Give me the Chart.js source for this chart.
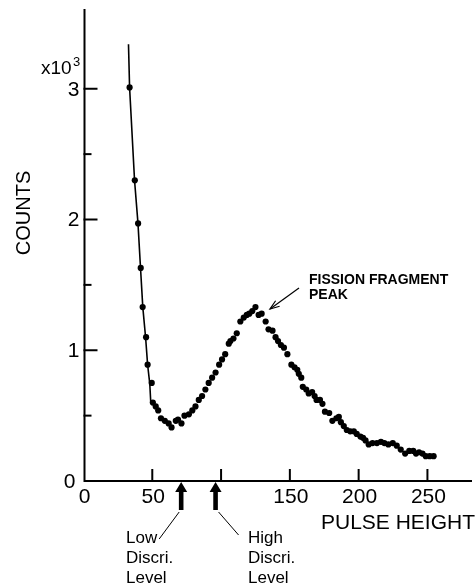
<!DOCTYPE html>
<html>
<head>
<meta charset="utf-8">
<script src="https://cdn.jsdelivr.net/npm/chart.js@4"></script>
<style>
  html, body { margin: 0; padding: 0; background: #fff; }
  canvas { display: block; }
</style>
</head>
<body>
<canvas id="pulseChart" width="476" height="585"></canvas>
<script>
// Measured points (pulse height channel, counts in units of 10^3)
const pulseHeight = [
  33.5, 37.3, 39.7, 41.6, 43.0, 45.5, 46.6, 49.6, 50.4, 52.5,
  54.3, 56.3, 59.1, 61.9, 64.0, 67.1, 68.7, 71.2, 73.4, 76.6,
  79.1, 81.4, 83.8, 86.2, 88.6, 91.0, 93.5, 96.0, 98.6, 100.7,
  103.0, 105.6, 106.8, 109.0, 111.4, 114.0, 116.5, 118.7, 120.5, 122.7,
  125.0, 127.3, 129.5, 132.4, 134.5, 137.4, 139.6, 141.4, 143.5, 145.7,
  148.2, 151.1, 153.4, 155.4, 156.5, 158.3, 159.4, 161.9, 163.7, 166.2,
  168.0, 169.4, 171.9, 173.7, 175.5, 178.6, 180.9, 183.8, 185.6, 187.1,
  189.2, 191.4, 193.9, 196.5, 198.6, 201.3, 203.2, 205.0, 207.3, 210.1,
  213.3, 216.2, 218.7, 221.6, 224.8, 227.7, 230.6, 233.8, 236.8, 239.7,
  241.7, 243.9, 246.4, 248.8, 251.7, 254.5
];
const counts = [
  3.01, 2.30, 1.97, 1.63, 1.33, 1.10, 0.89, 0.75, 0.60, 0.57,
  0.54, 0.48, 0.46, 0.44, 0.41, 0.46, 0.47, 0.44, 0.50, 0.51,
  0.54, 0.57, 0.62, 0.65, 0.70, 0.75, 0.79, 0.83, 0.89, 0.93,
  0.97, 1.05, 1.07, 1.09, 1.13, 1.22, 1.25, 1.27, 1.28, 1.30,
  1.33, 1.27, 1.28, 1.22, 1.16, 1.15, 1.10, 1.07, 1.04, 1.02,
  0.97, 0.89, 0.87, 0.85, 0.82, 0.79, 0.72, 0.70, 0.67, 0.68,
  0.65, 0.62, 0.62, 0.59, 0.53, 0.52, 0.46, 0.48, 0.49, 0.45,
  0.42, 0.39, 0.38, 0.38, 0.36, 0.34, 0.33, 0.31, 0.28, 0.29,
  0.29, 0.30, 0.29, 0.28, 0.29, 0.27, 0.24, 0.21, 0.23, 0.23,
  0.21, 0.22, 0.21, 0.19, 0.19, 0.19
];

// Hand-drawn curve through the low-energy tail
const fitX = [32.7, 33.5, 37.1, 39.6, 41.5, 43.1, 45.2, 46.6, 48.2, 48.9];
const fitY = [3.34, 3.01, 2.30, 1.97, 1.62, 1.33, 1.09, 0.89, 0.74, 0.60];

// Axis ticks
const xTicks = [50, 100, 150, 200, 250];
const xTickLabels = ['50', '', '150', '200', '250'];
const yTicks = [0.5, 1, 1.5, 2, 2.5, 3];
const yLabelTicks = [1, 2, 3];

// Discriminator levels
const lowDiscri = 71;
const highDiscri = 96;

const font = '"Liberation Sans", Arial, sans-serif';

const pointData = pulseHeight.map((x, i) => ({ x: x, y: counts[i] }));
const fitData = fitX.map((x, i) => ({ x: x, y: fitY[i] }));

function arrowHead(ctx, x1, y1, x2, y2, size) {
  const a = Math.atan2(y2 - y1, x2 - x1);
  ctx.beginPath();
  ctx.moveTo(x2 - size * Math.cos(a - 0.35), y2 - size * Math.sin(a - 0.35));
  ctx.lineTo(x2, y2);
  ctx.lineTo(x2 - size * Math.cos(a + 0.35), y2 - size * Math.sin(a + 0.35));
  ctx.stroke();
}

// Axes, ticks and labels drawn in the old paper style
const paperAxes = {
  id: 'paperAxes',
  afterDraw(chart) {
    const ctx = chart.ctx;
    const xs = chart.scales.x;
    const ys = chart.scales.y;
    const x0 = xs.getPixelForValue(0);
    const y0 = ys.getPixelForValue(0);
    ctx.save();
    ctx.strokeStyle = '#000';
    ctx.fillStyle = '#000';
    ctx.lineWidth = 2;
    ctx.lineCap = 'butt';

    // axis lines
    ctx.beginPath();
    ctx.moveTo(x0 + 1, chart.chartArea.top);
    ctx.lineTo(x0 + 1, y0);
    ctx.lineTo(chart.chartArea.right, y0);
    ctx.stroke();

    // x ticks (inside)
    xTicks.forEach((v, i) => {
      const px = xs.getPixelForValue(v);
      ctx.beginPath();
      ctx.moveTo(px, y0);
      ctx.lineTo(px, y0 - 12);
      ctx.stroke();
      if (xTickLabels[i]) {
        ctx.font = '21px ' + font;
        ctx.textAlign = 'center';
        ctx.textBaseline = 'middle';
        ctx.fillText(xTickLabels[i], px + 1, y0 + 16);
      }
    });

    // y ticks (inside)
    yTicks.forEach(v => {
      const py = ys.getPixelForValue(v);
      const len = Number.isInteger(v) ? 14 : 8;
      ctx.beginPath();
      ctx.moveTo(x0, py);
      ctx.lineTo(x0 + len, py);
      ctx.stroke();
    });
    ctx.font = '21px ' + font;
    ctx.textAlign = 'center';
    ctx.textBaseline = 'middle';
    yLabelTicks.forEach(v => {
      ctx.fillText(String(v), x0 - 10, ys.getPixelForValue(v) + 1);
    });
    // the two zeros
    ctx.fillText('0', x0 - 14, y0 + 1);
    ctx.fillText('0', x0 + 1, y0 + 16);

    // multiplier
    ctx.textAlign = 'left';
    ctx.font = '19px ' + font;
    ctx.fillText('x10', 41, 69);
    ctx.font = '13px ' + font;
    ctx.fillText('3', 73, 62);

    // axis titles
    ctx.font = '21px ' + font;
    ctx.textAlign = 'right';
    ctx.fillText('PULSE HEIGHT', 475, 523);
    ctx.save();
    ctx.translate(24, 213);
    ctx.rotate(-Math.PI / 2);
    ctx.textAlign = 'center';
    ctx.font = '20px ' + font;
    ctx.fillText('COUNTS', 0, 0);
    ctx.restore();

    // discriminator arrows
    [lowDiscri, highDiscri].forEach(v => {
      const px = xs.getPixelForValue(v);
      ctx.beginPath();
      ctx.moveTo(px, y0 + 1);
      ctx.lineTo(px - 6, y0 + 11);
      ctx.lineTo(px - 2.3, y0 + 11);
      ctx.lineTo(px - 2.3, y0 + 29);
      ctx.lineTo(px + 2.3, y0 + 29);
      ctx.lineTo(px + 2.3, y0 + 11);
      ctx.lineTo(px + 6, y0 + 11);
      ctx.closePath();
      ctx.fill();
    });
    ctx.lineWidth = 1;
    const lowPx = xs.getPixelForValue(lowDiscri);
    const highPx = xs.getPixelForValue(highDiscri);
    ctx.beginPath();
    ctx.moveTo(lowPx - 2, y0 + 31);
    ctx.lineTo(lowPx - 22, y0 + 58);
    ctx.moveTo(highPx + 3, y0 + 31);
    ctx.lineTo(highPx + 23, y0 + 54);
    ctx.stroke();

    ctx.font = '17px ' + font;
    ctx.textAlign = 'left';
    ctx.textBaseline = 'middle';
    ['Low', 'Discri.', 'Level'].forEach((t, i) => ctx.fillText(t, 126, 538 + i * 20));
    ['High', 'Discri.', 'Level'].forEach((t, i) => ctx.fillText(t, 248, 538 + i * 20));

    // peak label
    ctx.font = '600 14px ' + font;
    ctx.fillText('FISSION FRAGMENT', 309, 280);
    ctx.fillText('PEAK', 309, 295);
    ctx.lineWidth = 1.2;
    ctx.beginPath();
    ctx.moveTo(299, 288);
    ctx.lineTo(270, 309);
    ctx.stroke();
    arrowHead(ctx, 299, 288, 270, 309, 10);

    ctx.restore();
  }
};

const config = {
  type: 'scatter',
  data: {
    datasets: [
      {
        label: 'fit',
        data: fitData,
        showLine: true,
        borderColor: '#000',
        borderWidth: 1.6,
        pointRadius: 0,
        tension: 0,
      },
      {
        label: 'counts',
        data: pointData,
        showLine: false,
        backgroundColor: '#000',
        borderColor: '#000',
        borderWidth: 0,
        pointRadius: 3.1,
      },
    ],
  },
  options: {
    responsive: false,
    animation: false,
    devicePixelRatio: 1,
    layout: {
      padding: { left: 83.5, right: 0, top: 9, bottom: 104 },
    },
    plugins: {
      legend: { display: false },
      tooltip: { enabled: false },
    },
    scales: {
      x: { type: 'linear', min: 0, max: 282.4, display: false },
      y: { type: 'linear', min: 0, max: 3.61, display: false },
    },
  },
  plugins: [paperAxes],
};

const ctx = document.getElementById('pulseChart').getContext('2d');
new Chart(ctx, config);
</script>
</body>
</html>
